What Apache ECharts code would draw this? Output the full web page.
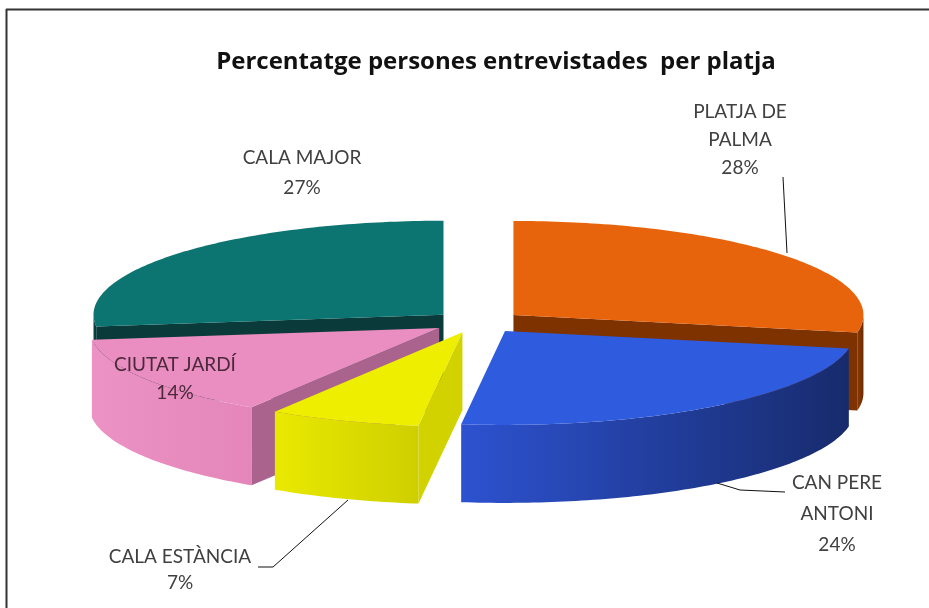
<!DOCTYPE html>
<html lang="ca">
<head>
  <meta charset="utf-8">
  <script src="https://cdn.jsdelivr.net/npm/echarts@6/dist/echarts.min.js"></script>
  <style>
    html, body { margin: 0; height: 100%; background: #fff; }
    #chart { width: 929px; height: 608px; }
  </style>
</head>
<body>
  <div id="chart"></div>
  <script>
    // dades
    var names = ['PLATJA DE PALMA', 'CAN PERE ANTONI', 'CALA ESTÀNCIA', 'CIUTAT JARDÍ', 'CALA MAJOR'];
    var labelLines = [['PLATJA DE', 'PALMA'], ['CAN PERE', 'ANTONI'], ['CALA ESTÀNCIA'], ['CIUTAT JARDÍ'], ['CALA MAJOR']];
    var values = [28, 24, 7, 14, 27];

    // colors: cara superior, tall radial, paret exterior (degradat)
    var topColors  = ['#E8640C', '#2F5BDF', '#EEEE00', '#EA8DC0', '#0D7571'];
    var sideColors = ['#7E3200', '#1E3A9A', '#D2D200', '#A9638C', '#0A3A3A'];
    var wallFrom   = ['#8A3A05', '#2D52D0', '#E9E900', '#EC92C4', '#0B4A48'];
    var wallTo     = ['#6E2A00', '#172B6C', '#CFCF00', '#E486B9', '#083434'];

    // geometria del pastis 3D
    var CX = 478, CY = 322, RX = 350, RY = 94, DEPTH = 78, EX = 46, EY = 11;

    // posicio de les etiquetes i linies guia
    var labelPos = [[740, 140, 28], [837, 514, 31], [180, 570, 26], [175, 379, 28], [302, 173, 30]];
    var labelColors = ['#404040', '#404040', '#404040', '#4a2a3a', '#404040'];
    var leaders = [
      [[783, 177], [787, 253]],
      [[717, 483], [740, 490], [785, 492]],
      [[258, 567], [273, 567], [348, 500]],
      null,
      null
    ];

    var total = values.reduce(function (a, b) { return a + b; }, 0);

    function pt(c, deg, dz) {
      var t = deg * Math.PI / 180;
      return [c[0] + RX * Math.sin(t), c[1] - RY * Math.cos(t) + (dz || 0)];
    }

    function arc(c, from, to, dz) {
      var pts = [];
      var n = Math.max(2, Math.ceil(Math.abs(to - from)));
      for (var k = 0; k <= n; k++) pts.push(pt(c, from + (to - from) * k / n, dz));
      return pts;
    }

    function renderSlice(params, api) {
      var i = params.dataIndex;
      var before = 0;
      for (var k = 0; k < i; k++) before += values[k];
      var a0 = before / total * 360;
      var a1 = (before + api.value(0)) / total * 360;
      var mid = (a0 + a1) / 2 * Math.PI / 180;
      var c = [CX + EX * Math.sin(mid), CY - EY * Math.cos(mid)];
      var cb = [c[0], c[1] + DEPTH];
      var z = Math.round(-Math.cos(mid) * 100) + 200;
      var children = [];

      // paret exterior visible (part frontal)
      var w0 = Math.max(a0, 90), w1 = Math.min(a1, 270);
      if (w1 > w0) {
        var topArc = arc(c, w0, w1, 0);
        var botArc = arc(c, w0, w1, DEPTH).reverse();
        children.push({
          type: 'polygon', z2: z,
          shape: { points: topArc.concat(botArc) },
          style: {
            fill: new echarts.graphic.LinearGradient(1, 0, 0, 0, [
              { offset: 0, color: wallTo[i] }, { offset: 1, color: wallFrom[i] }
            ])
          }
        });
      }
      // talls radials visibles
      if (Math.sin(a0 * Math.PI / 180) < -1e-6) {
        children.push({
          type: 'polygon', z2: z,
          shape: { points: [c, pt(c, a0, 0), pt(c, a0, DEPTH), cb] },
          style: { fill: sideColors[i] }
        });
      }
      if (Math.sin(a1 * Math.PI / 180) > 1e-6) {
        children.push({
          type: 'polygon', z2: z,
          shape: { points: [c, pt(c, a1, 0), pt(c, a1, DEPTH), cb] },
          style: { fill: sideColors[i] }
        });
      }
      // cara superior
      children.push({
        type: 'polygon', z2: z + 1,
        shape: { points: [c].concat(arc(c, a0, a1, 0)) },
        style: { fill: topColors[i] }
      });
      return { type: 'group', children: children };
    }

    var graphics = [
      { type: 'line', shape: { x1: 6.5, y1: 9, x2: 6.5, y2: 608 }, style: { stroke: '#333', lineWidth: 2 } },
      { type: 'line', shape: { x1: 6, y1: 9.5, x2: 929, y2: 9.5 }, style: { stroke: '#333', lineWidth: 2 } }
    ];
    names.forEach(function (n, i) {
      graphics.push({
        type: 'text', z: 10,
        style: {
          text: labelLines[i].join('\n') + '\n' + values[i] + '%',
          x: labelPos[i][0], y: labelPos[i][1],
          align: 'center', verticalAlign: 'middle',
          lineHeight: labelPos[i][2],
          font: '19px Lato', fill: labelColors[i]
        }
      });
      if (leaders[i]) {
        graphics.push({
          type: 'polyline', z: 10,
          shape: { points: leaders[i] },
          style: { stroke: '#111', lineWidth: 1, fill: null }
        });
      }
    });

    var chart = echarts.init(document.getElementById('chart'));
    chart.setOption({
      backgroundColor: '#fff',
      animation: false,
      title: {
        text: 'Percentatge persones entrevistades  per platja',
        left: 491, top: 45, textAlign: 'center',
        textStyle: { fontFamily: 'Open Sans', fontWeight: 'bold', fontSize: 24, color: '#111' }
      },
      graphic: graphics,
      series: [{
        type: 'custom',
        coordinateSystem: 'none',
        renderItem: renderSlice,
        data: values.map(function (v, i) { return { name: names[i], value: [v] }; })
      }]
    });
  </script>
</body>
</html>
